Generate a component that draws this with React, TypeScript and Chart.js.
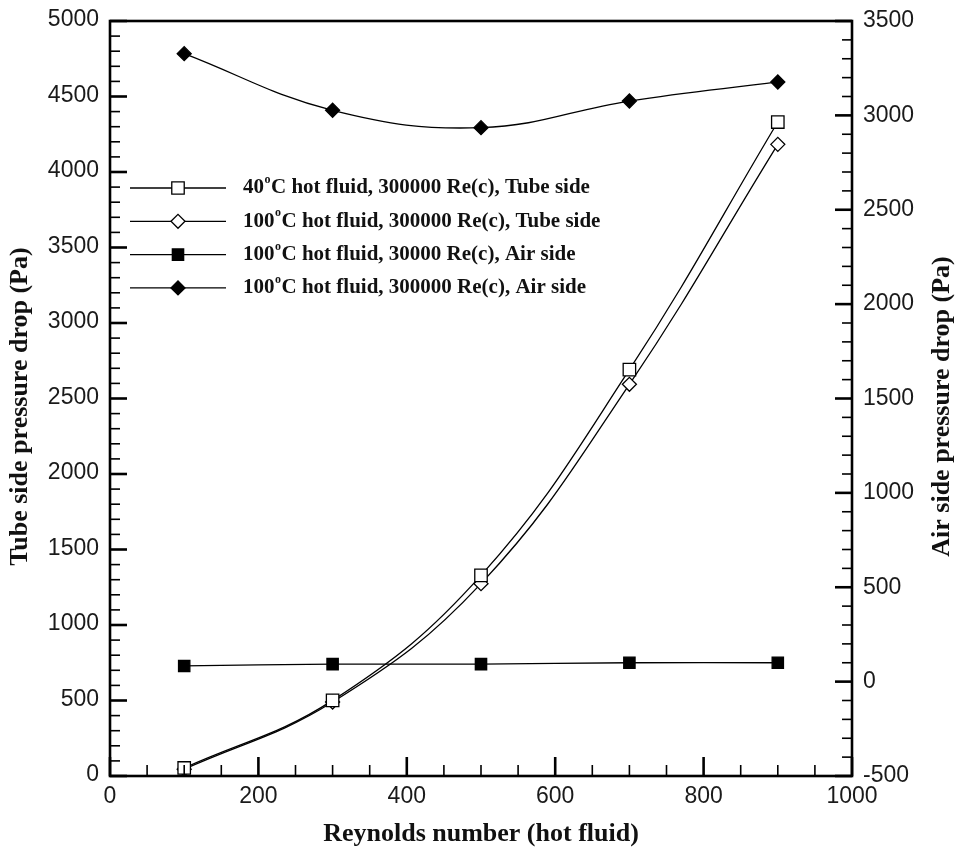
import React, { useEffect, useRef } from "react";
import { Chart, registerables } from "chart.js";
import { drawPoint } from "chart.js/helpers";

Chart.register(...registerables);

// ---- data ----
const reynolds = [100, 300, 500, 700, 900];
const tube40 = [53, 501, 1329, 2691, 4331];
const tube100 = [45, 490, 1274, 2594, 4183];
const air30000 = [83, 93, 93, 100, 100];
const air300000 = [3327, 3027, 2935, 3076, 3177];

const seriesLabels = [
  "40°C hot fluid, 300000 Re(c), Tube side",
  "100°C hot fluid, 300000 Re(c), Tube side",
  "100°C hot fluid, 30000 Re(c), Air side",
  "100°C hot fluid, 300000 Re(c), Air side",
];

const xTickLabels = [0, 200, 400, 600, 800, 1000];
const leftTickLabels = [0, 500, 1000, 1500, 2000, 2500, 3000, 3500, 4000, 4500, 5000];
const rightTickLabels = [-500, 0, 500, 1000, 1500, 2000, 2500, 3000, 3500];

const xTitle = "Reynolds number (hot fluid)";
const leftTitle = "Tube side pressure drop (Pa)";
const rightTitle = "Air side pressure drop (Pa)";

const TICK_FONT = '23px "Liberation Sans", Arial, sans-serif';
const TITLE_FONT = 'bold 26px "Liberation Serif", "Times New Roman", serif';
const LEGEND_FONT = 'bold 21px "Liberation Serif", "Times New Roman", serif';
const LEGEND_SUP_FONT = 'bold 12px "Liberation Serif", "Times New Roman", serif';

function line(ctx: CanvasRenderingContext2D, x1: number, y1: number, x2: number, y2: number) {
  ctx.beginPath();
  ctx.moveTo(x1, y1);
  ctx.lineTo(x2, y2);
  ctx.stroke();
}

const framePlugin = {
  id: "tecFrame",
  afterDraw(chart: any) {
    const { ctx, chartArea: a, scales } = chart;
    const sx = scales.x;
    const sy = scales.y;
    const sy2 = scales.y2;
    ctx.save();
    ctx.strokeStyle = "#000";
    ctx.lineCap = "butt";

    // minor ticks
    ctx.lineWidth = 1.6;
    for (let v = 0; v <= 1000; v += 50) {
      if (v % 200 === 0) continue;
      const px = sx.getPixelForValue(v);
      line(ctx, px, a.bottom, px, a.bottom - 11);
    }
    for (let v = 0; v <= 5000; v += 100) {
      if (v % 500 === 0) continue;
      const py = sy.getPixelForValue(v);
      line(ctx, a.left, py, a.left + 10, py);
    }
    for (let v = -500; v <= 3500; v += 100) {
      if ((v + 500) % 500 === 0) continue;
      const py = sy2.getPixelForValue(v);
      line(ctx, a.right, py, a.right - 10, py);
    }

    // major ticks
    ctx.lineWidth = 2.6;
    xTickLabels.forEach((v) => {
      const px = sx.getPixelForValue(v);
      line(ctx, px, a.bottom, px, a.bottom - 19);
    });
    leftTickLabels.forEach((v) => {
      const py = sy.getPixelForValue(v);
      line(ctx, a.left, py, a.left + 17, py);
    });
    rightTickLabels.forEach((v) => {
      const py = sy2.getPixelForValue(v);
      line(ctx, a.right, py, a.right - 17, py);
    });

    // frame
    ctx.lineWidth = 2.6;
    ctx.strokeRect(a.left, a.top, a.right - a.left, a.bottom - a.top);

    // tick labels
    ctx.fillStyle = "#1a1a1a";
    ctx.font = TICK_FONT;
    ctx.textBaseline = "middle";
    ctx.textAlign = "right";
    leftTickLabels.forEach((v) => {
      ctx.fillText(String(v), a.left - 11, sy.getPixelForValue(v) - 1);
    });
    ctx.textAlign = "left";
    rightTickLabels.forEach((v) => {
      ctx.fillText(String(v), a.right + 11, sy2.getPixelForValue(v));
    });
    ctx.textAlign = "center";
    ctx.textBaseline = "top";
    xTickLabels.forEach((v) => {
      ctx.fillText(String(v), sx.getPixelForValue(v), a.bottom + 9);
    });

    // axis titles
    ctx.fillStyle = "#111";
    ctx.font = TITLE_FONT;
    ctx.textAlign = "center";
    ctx.textBaseline = "middle";
    ctx.fillText(xTitle, (a.left + a.right) / 2, a.bottom + 58);

    ctx.save();
    ctx.translate(20, (a.top + a.bottom) / 2 + 8);
    ctx.rotate(-Math.PI / 2);
    ctx.fillText(leftTitle, 0, 0);
    ctx.restore();

    ctx.save();
    ctx.translate(942, (a.top + a.bottom) / 2 + 8);
    ctx.rotate(-Math.PI / 2);
    ctx.fillText(rightTitle, 0, 0);
    ctx.restore();

    // legend
    const ds = chart.data.datasets;
    ds.forEach((d: any, i: number) => {
      const ly = 188 + i * 33.3;
      ctx.strokeStyle = "#000";
      ctx.lineWidth = 1.3;
      line(ctx, a.left + 20, ly, a.left + 116, ly);
      ctx.fillStyle = d.pointBackgroundColor;
      ctx.strokeStyle = d.pointBorderColor;
      ctx.lineWidth = d.pointBorderWidth;
      drawPoint(
        ctx,
        { pointStyle: d.pointStyle, rotation: 0, radius: d.pointRadius, borderWidth: d.pointBorderWidth },
        a.left + 68,
        ly
      );
      // label with superscript "o" for degree
      ctx.fillStyle = "#111";
      ctx.textAlign = "left";
      ctx.textBaseline = "middle";
      const parts = String(d.label).split("°");
      let tx = a.left + 133;
      ctx.font = LEGEND_FONT;
      ctx.fillText(parts[0], tx, ly);
      tx += ctx.measureText(parts[0]).width + 0.5;
      if (parts.length > 1) {
        ctx.font = LEGEND_SUP_FONT;
        ctx.fillText("o", tx, ly - 8);
        tx += ctx.measureText("o").width + 0.5;
        ctx.font = LEGEND_FONT;
        ctx.fillText(parts[1], tx, ly);
      }
    });

    ctx.restore();
  },
};

function makeData(values: number[]) {
  return reynolds.map((x, i) => ({ x, y: values[i] }));
}

export default function App() {
  const ref = useRef<HTMLCanvasElement | null>(null);

  useEffect(() => {
    if (!ref.current) return;
    const common = {
      borderColor: "#000",
      borderWidth: 1.3,
      pointBorderColor: "#000",
      pointBorderWidth: 1.3,
      tension: 0.4,
      fill: false,
    };
    const chart = new Chart(ref.current, {
      type: "line",
      data: {
        datasets: [
          {
            ...common,
            label: seriesLabels[0],
            data: makeData(tube40),
            yAxisID: "y",
            pointStyle: "rect",
            pointRadius: 8.8,
            pointBackgroundColor: "#fff",
          },
          {
            ...common,
            label: seriesLabels[1],
            data: makeData(tube100),
            yAxisID: "y",
            pointStyle: "rectRot",
            pointRadius: 7,
            pointBackgroundColor: "#fff",
          },
          {
            ...common,
            label: seriesLabels[2],
            data: makeData(air30000),
            yAxisID: "y2",
            pointStyle: "rect",
            pointRadius: 8,
            pointBackgroundColor: "#000",
          },
          {
            ...common,
            label: seriesLabels[3],
            data: makeData(air300000),
            yAxisID: "y2",
            pointStyle: "rectRot",
            pointRadius: 7,
            pointBackgroundColor: "#000",
          },
        ] as any,
      },
      options: {
        animation: false,
        responsive: false,
        maintainAspectRatio: false,
        layout: { padding: { left: 110, top: 21, right: 107, bottom: 76 } },
        plugins: { legend: { display: false }, tooltip: { enabled: false } },
        scales: {
          x: { type: "linear", min: 0, max: 1000, display: false },
          y: { type: "linear", min: 0, max: 5000, display: false },
          y2: { type: "linear", min: -500, max: 3500, display: false, position: "right" },
        },
      } as any,
      plugins: [framePlugin],
    });
    return () => chart.destroy();
  }, []);

  return (
    <div style={{ position: "fixed", left: 0, top: 0, width: 959, height: 852, background: "#fff" }}>
      <canvas ref={ref} width={959} height={852} style={{ display: "block" }} />
    </div>
  );
}
